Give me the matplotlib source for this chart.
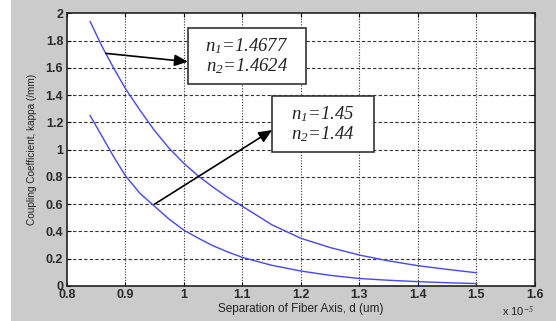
import matplotlib
matplotlib.use("Agg")
import matplotlib.pyplot as plt
from matplotlib.patches import Rectangle

# Data (separation in units of 1e-5 m)
d = [0.84, 0.86, 0.88, 0.90, 0.925, 0.95, 0.975, 1.00, 1.025, 1.05, 1.075,
     1.10, 1.15, 1.20, 1.25, 1.30, 1.35, 1.40, 1.45, 1.50]
kappa_high = [1.94, 1.76, 1.60, 1.45, 1.29, 1.14, 1.01, 0.90, 0.806, 0.725, 0.65,
              0.585, 0.45, 0.35, 0.282, 0.227, 0.184, 0.149, 0.122, 0.097]
kappa_low = [1.25, 1.10, 0.95, 0.81, 0.68, 0.585, 0.49, 0.41, 0.35, 0.295, 0.25,
             0.21, 0.152, 0.11, 0.078, 0.055, 0.042, 0.032, 0.024, 0.018]

xticks = [0.8, 0.9, 1.0, 1.1, 1.2, 1.3, 1.4, 1.5, 1.6]
xticklabels = ["0.8", "0.9", "1", "1.1", "1.2", "1.3", "1.4", "1.5", "1.6"]
yticks = [0, 0.2, 0.4, 0.6, 0.8, 1.0, 1.2, 1.4, 1.6, 1.8, 2.0]
yticklabels = ["0", "0.2", "0.4", "0.6", "0.8", "1", "1.2", "1.4", "1.6", "1.8", "2"]

plt.rcParams['mathtext.fontset'] = 'custom'
plt.rcParams['mathtext.it'] = 'Liberation Serif:italic'
plt.rcParams['mathtext.rm'] = 'Liberation Serif:italic'

fig = plt.figure(figsize=(5.56, 3.21), dpi=100, facecolor='#cbcbcb')
fig.patches.append(Rectangle((0, 0), 11/556, 1, transform=fig.transFigure,
                             facecolor='white', edgecolor='none', zorder=-1))
ax = fig.add_axes([66.7/556, 1-286/321, (535-66.7)/556, (286-13.3)/321])
ax.set_facecolor('white')

ax.plot(d, kappa_high, color='#4646ff', lw=1.0, zorder=3)
ax.plot(d, kappa_low, color='#4646ff', lw=1.0, zorder=3)

ax.set_xlim(0.8, 1.6)
ax.set_ylim(0, 2)
ax.set_xticks(xticks)
ax.set_xticklabels(xticklabels)
ax.set_yticks(yticks)
ax.set_yticklabels(yticklabels)
for lab in ax.get_xticklabels() + ax.get_yticklabels():
    lab.set_fontfamily('Liberation Sans')
    lab.set_fontweight('bold')
    lab.set_fontsize(9)
    lab.set_color('#2a2a2a')
ax.tick_params(direction='in', length=3, width=0.8, top=True, right=True, pad=2.5)

for y in yticks[1:-1]:
    ax.axhline(y, color='#333333', lw=0.8, ls=(0, (3, 2)), zorder=1)
for x in xticks[1:-1]:
    ax.axvline(x, color='#333333', lw=0.8, ls=(0, (1, 1.5)), zorder=1)

for s in ax.spines.values():
    s.set_linewidth(1.2)
    s.set_color('#222222')

ax.set_xlabel('Separation of Fiber Axis, d (um)', fontfamily='Liberation Sans',
              fontsize=8.5, labelpad=1, color='#222222')
ax.set_ylabel('Coupling Coefficient, kappa (/mm)', fontfamily='Liberation Sans',
              fontsize=7.2, labelpad=6, color='#222222')
fig.text(502/556, 1-312/321, r'x 10$^{-5}$', fontfamily='Liberation Sans',
         fontsize=8, color='#222222', va='center', ha='left')

# Annotation boxes
box1 = Rectangle((1.007, 1.481), 0.202, 0.408, facecolor='white',
                 edgecolor='#333333', lw=1.2, zorder=4)
box2 = Rectangle((1.151, 0.985), 0.174, 0.408, facecolor='white',
                 edgecolor='#333333', lw=1.2, zorder=4)
ax.add_patch(box1)
ax.add_patch(box2)

tkw = dict(fontfamily='Liberation Serif', style='italic', fontsize=13.5,
           color='#222222', ha='center', va='center', zorder=5,
           linespacing=1.05)
ax.text(1.108, 1.685, '$n_1$=1.4677\n$n_2$=1.4624', **tkw)
ax.text(1.238, 1.189, '$n_1$=1.45\n$n_2$=1.44', **tkw)

akw = dict(arrowstyle='-|>,head_length=0.8,head_width=0.35', color='black',
           lw=1.2, shrinkA=0, shrinkB=0)
ax.annotate('', xy=(1.007, 1.645), xytext=(0.867, 1.706),
            arrowprops=akw, zorder=6)
ax.annotate('', xy=(1.151, 1.144), xytext=(0.95, 0.60),
            arrowprops=akw, zorder=6)

fig.savefig('out.png', dpi=100, facecolor=fig.get_facecolor())
